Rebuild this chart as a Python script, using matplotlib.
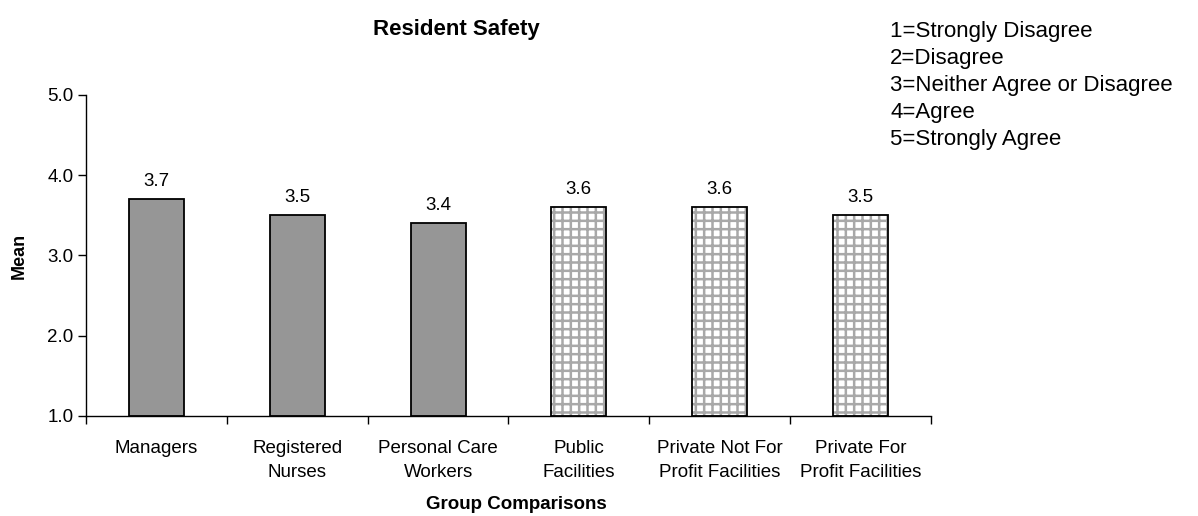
import matplotlib
matplotlib.use("Agg")
import matplotlib.pyplot as plt
import numpy as np

plt.rcParams["font.family"] = ["Liberation Sans", "DejaVu Sans"]
plt.rcParams["hatch.linewidth"] = 1.8

groups = ["Managers", "Registered\nNurses", "Personal Care\nWorkers",
          "Public\nFacilities", "Private Not For\nProfit Facilities",
          "Private For\nProfit Facilities"]
means = [3.7, 3.5, 3.4, 3.6, 3.6, 3.5]
hatched = [False, False, False, True, True, True]
scale_key = ["1=Strongly Disagree", "2=Disagree", "3=Neither Agree or Disagree",
             "4=Agree", "5=Strongly Agree"]

fig = plt.figure(figsize=(11.98, 5.16), dpi=100)
ax = fig.add_axes([0.0718, 0.1938, 0.7053, 0.6221])

x = np.arange(len(groups))
base = 1.0
width = 0.39
for xi, m, h in zip(x, means, hatched):
    if h:
        # grid fill first, then a black outline on top
        ax.bar(xi, m - base, width, bottom=base, color="white",
               edgecolor="#a8a8a8", hatch="++", linewidth=0, zorder=2)
        ax.bar(xi, m - base, width, bottom=base, fill=False,
               edgecolor="black", linewidth=1.3, zorder=3)
    else:
        ax.bar(xi, m - base, width, bottom=base, color="#969696",
               edgecolor="black", linewidth=1.3, zorder=2)
    ax.annotate(f"{m:.1f}", (xi, m), xytext=(0, 7), textcoords="offset points",
                ha="center", va="bottom", fontsize=13.5)

ax.set_xlim(-0.5, len(groups) - 0.5)
ax.set_ylim(1.0, 5.0)
ax.set_yticks([1, 2, 3, 4, 5])
ax.set_yticklabels([f"{v:.1f}" for v in [1, 2, 3, 4, 5]], fontsize=13.5)
ax.set_xticks(x)
ax.set_xticklabels(groups, fontsize=13.5, linespacing=1.55)
ax.set_xticks(np.arange(-0.5, len(groups)), minor=True)
ax.tick_params(axis="x", which="major", length=0, pad=17)
ax.tick_params(axis="x", which="minor", length=6, width=1)
ax.tick_params(axis="y", length=6, width=1, pad=3)

for s in ["top", "right"]:
    ax.spines[s].set_visible(False)
for s in ["left", "bottom"]:
    ax.spines[s].set_linewidth(1)

ax.set_ylabel("Mean", fontsize=13, fontweight="bold", labelpad=14)
ax.set_xlabel("Group Comparisons", fontsize=13.5, fontweight="bold")
ax.xaxis.set_label_coords(0.509, -0.25)

fig.text(0.311, 0.942, "Resident Safety", fontsize=16, fontweight="bold",
         ha="left", va="center")
fig.text(0.743, 0.96, "\n".join(scale_key), fontsize=16, ha="left", va="top",
         linespacing=1.38)

fig.savefig("out.png", dpi=100)
